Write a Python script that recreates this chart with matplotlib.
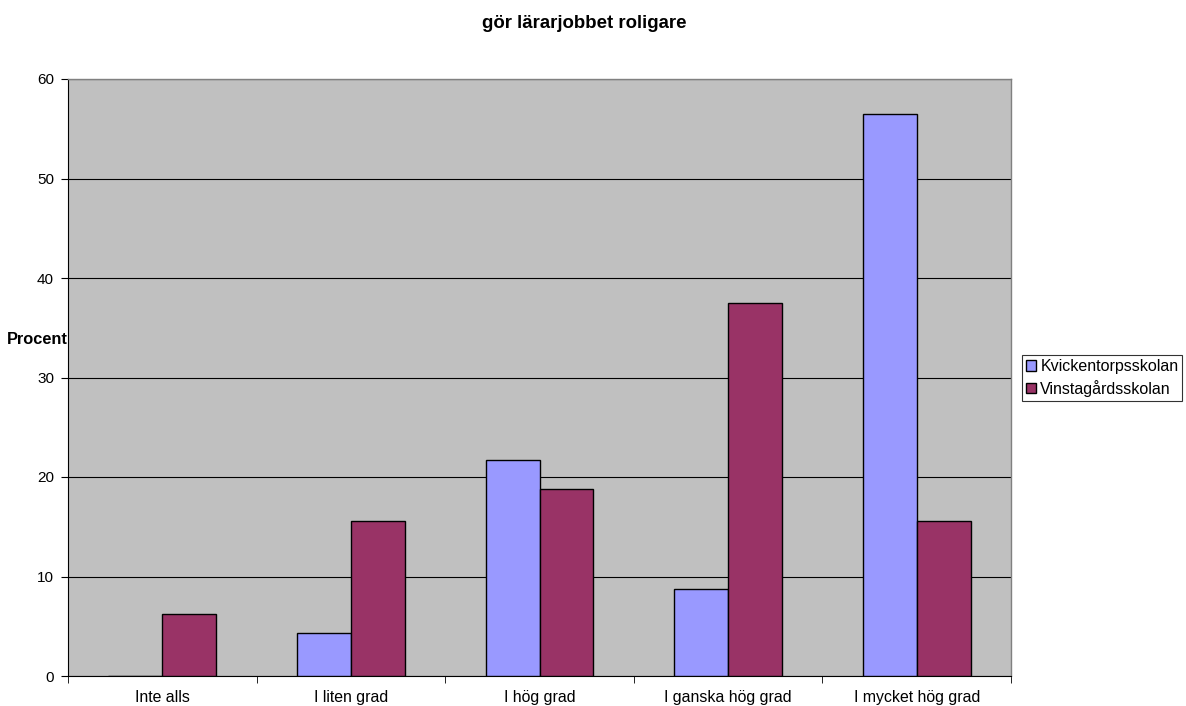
import matplotlib
matplotlib.use("Agg")
import matplotlib.pyplot as plt
import numpy as np

plt.rcParams['font.family'] = ['Liberation Sans', 'DejaVu Sans']

categories = ["Inte alls", "I liten grad", "I hög grad", "I ganska hög grad", "I mycket hög grad"]
series_names = ["Kvickentorpsskolan", "Vinstagårdsskolan"]
kvickentorp = [0, 4.35, 21.74, 8.70, 56.52]
vinstagard = [6.25, 15.625, 18.75, 37.5, 15.625]
yticks = [0, 10, 20, 30, 40, 50, 60]
title = "gör lärarjobbet roligare"
ylabel = "Procent"

colors = ["#9999FF", "#993366"]

fig = plt.figure(figsize=(11.86, 7.06), dpi=100)
ax = fig.add_axes([68/1186, 1-676/706, (1011-68)/1186, (676-79)/706])
ax.set_facecolor("#C0C0C0")

x = np.arange(len(categories))
w = 1/3.5
ax.bar(x - w/2, kvickentorp, w, color=colors[0], edgecolor="black", linewidth=1, label=series_names[0], zorder=3)
ax.bar(x + w/2, vinstagard, w, color=colors[1], edgecolor="black", linewidth=1, label=series_names[1], zorder=3)

ax.set_xlim(-0.5, len(categories) - 0.5)
ax.set_ylim(0, 60)
ax.set_yticks(yticks)
ax.set_yticklabels([str(t) for t in yticks], fontsize=11)
ax.yaxis.grid(True, color="black", linewidth=0.8, zorder=1)
ax.set_axisbelow(True)

ax.set_xticks(x)
ax.set_xticklabels(categories, fontsize=11.4)
ax.tick_params(axis='x', length=0, pad=10)
ax.set_xticks(np.arange(len(categories) + 1) - 0.5, minor=True)
ax.tick_params(axis='x', which='minor', length=5, color="black")
ax.tick_params(axis='y', length=5, color="black", pad=5)

for s in ["top", "right"]:
    ax.spines[s].set_color("#808080")
    ax.spines[s].set_linewidth(1)
ax.spines["left"].set_color("black")
ax.spines["bottom"].set_color("black")

fig.text(584/1186, 1 - 23/706, title, fontsize=13.4, fontweight="bold", ha="center", va="center")
ax.set_ylabel(ylabel, fontsize=11.8, fontweight="bold", rotation=0, labelpad=0)
ax.yaxis.set_label_coords(0.0, (676-339)/(676-79), transform=ax.transAxes)
ax.yaxis.label.set_horizontalalignment("right")
ax.yaxis.label.set_verticalalignment("center")

leg = ax.legend(loc="center left", bbox_to_anchor=(1022/1186, 1-378/706), bbox_transform=fig.transFigure,
                fontsize=11.5, frameon=True, fancybox=False, edgecolor="black",
                handlelength=0.65, handleheight=0.65, handletextpad=0.25, borderpad=0.25,
                labelspacing=0.35, borderaxespad=0)
leg.get_frame().set_linewidth(0.8)

fig.savefig("out.png", dpi=100)
